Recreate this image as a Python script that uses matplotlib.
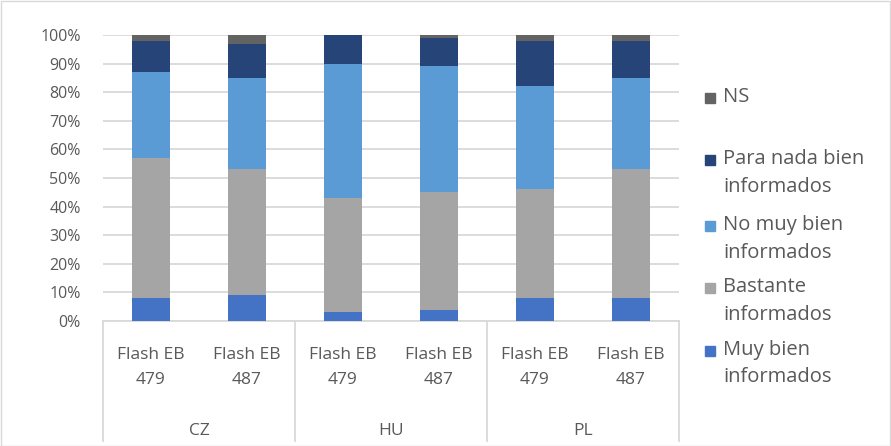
import numpy as np
import matplotlib.pyplot as plt
from matplotlib.patches import Rectangle
from matplotlib.lines import Line2D

plt.rcParams['font.family'] = ['Open Sans', 'DejaVu Sans']

# Data (shares in %)
groups = ['CZ', 'HU', 'PL']
waves = ['Flash EB\n479', 'Flash EB\n487']
series = ['Muy bien\ninformados', 'Bastante\ninformados', 'No muy bien\ninformados',
          'Para nada bien\ninformados', 'NS']
muy_bien = [8, 9, 3, 4, 8, 8]
bastante = [49, 44, 40, 41, 38, 45]
no_muy = [30, 32, 47, 44, 36, 32]
para_nada = [11, 12, 10, 10, 16, 13]
ns = [2, 3, 0, 1, 2, 2]
colors = ['#4472c4', '#a5a5a5', '#5b9bd5', '#264478', '#636363']

values = [muy_bien, bastante, no_muy, para_nada, ns]
txt = '#595959'
W, H = 891, 446

fig = plt.figure(figsize=(W / 100, H / 100), dpi=100)
fig.patches.append(Rectangle((0.5 / W, 0.5 / H), 1 - 1.5 / W, 1 - 1.5 / H, transform=fig.transFigure,
                             fill=False, edgecolor='#d9d9d9', linewidth=1))
ax = fig.add_axes([103 / W, (H - 321) / H, (679 - 103) / W, (321 - 35) / H])

n = len(muy_bien)
x = np.arange(n)
bottom = np.zeros(n)
for vals, col in zip(values, colors):
    v = np.array(vals) / 100
    ax.bar(x, v, bottom=bottom, width=0.4, color=col, zorder=3)
    bottom += v

ax.set_xlim(-0.5, n - 0.5)
ax.set_ylim(0, 1)
ax.set_yticks(np.arange(0, 1.01, 0.1))
ax.set_yticklabels([f'{int(round(t * 100))}%' for t in np.arange(0, 1.01, 0.1)], color=txt, fontsize=11.5)
ax.grid(axis='y', color='#d9d9d9', linewidth=1.3, zorder=0)
ax.tick_params(axis='y', length=0, pad=16)
ax.set_xticks([])
for s in ['top', 'right', 'left']:
    ax.spines[s].set_visible(False)
ax.spines['bottom'].set_color('#d9d9d9')
ax.spines['bottom'].set_linewidth(1.3)

# category labels
for i in range(n):
    ax.text(x[i], -0.164, waves[i % 2], ha='center', va='center', fontsize=12.5, color=txt,
            linespacing=1.75, transform=ax.get_xaxis_transform())
for g, name in enumerate(groups):
    ax.text(2 * g + 0.5, -0.385, name, ha='center', va='center', fontsize=12.5, color=txt,
            transform=ax.get_xaxis_transform())
for b in [-0.5, 1.5, 3.5, 5.5]:
    ax.add_line(Line2D([b, b], [0, -0.42], color='#d9d9d9', linewidth=1.3,
                       transform=ax.get_xaxis_transform(), clip_on=False))

# legend drawn by hand (reverse order, as in the original); y = first text line
leg_y = [98, 160, 226, 288, 351]
for lab, col, yy in zip(series[::-1], colors[::-1], leg_y):
    fig.patches.append(Rectangle((705 / W, (H - yy - 5) / H), 10 / W, 10 / H,
                                 transform=fig.transFigure, color=col))
    fig.text(723 / W, (H - yy + 11) / H, lab, ha='left', va='top', fontsize=14.5, color=txt,
             linespacing=1.5)

fig.savefig('out.png', dpi=100)
